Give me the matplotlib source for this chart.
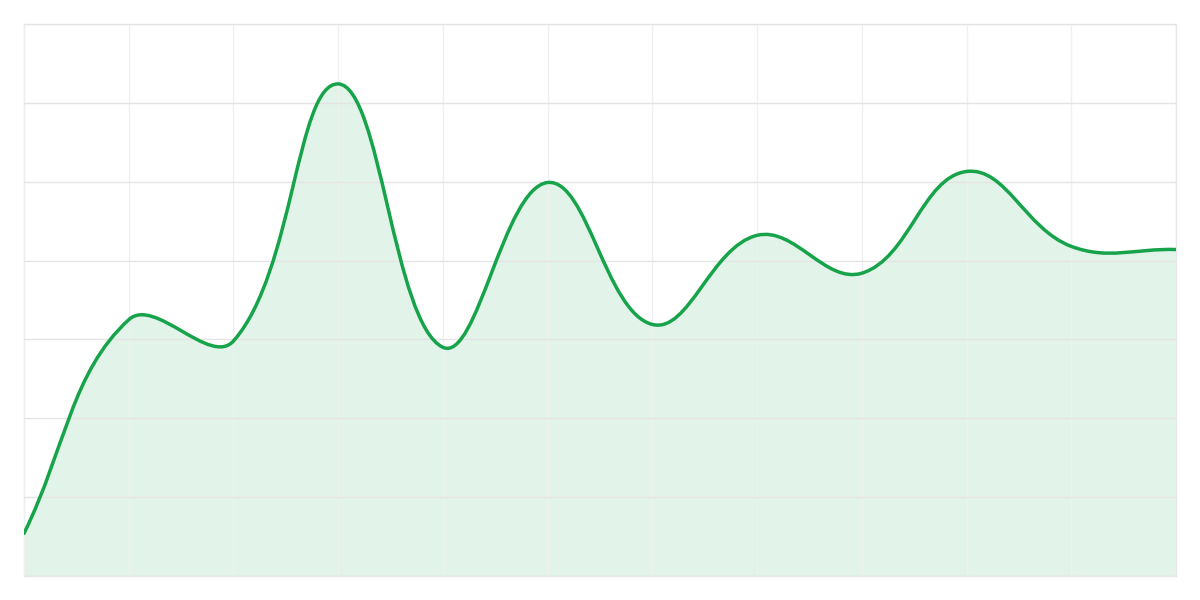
import numpy as np
import matplotlib
matplotlib.use('Agg')
import matplotlib.pyplot as plt
from matplotlib.path import Path
from matplotlib.patches import PathPatch

# values, one per vertical grid line
x_index = list(range(12))
values = [5.4, 32.5, 29.8, 62.4, 29.0, 49.9, 31.9, 43.2, 38.4, 51.3, 41.8, 41.4]

line_color = '#16a34a'
fill_color = '#16a34a'
tension = 0.4


def spline_path(ax, xs, ys):
    # bezier control points the same way Chart.js does it (in pixel space)
    pts = ax.transData.transform(np.column_stack([xs, ys]))
    n = len(pts)
    cp_prev = np.zeros_like(pts)
    cp_next = np.zeros_like(pts)
    for i in range(n):
        cur = pts[i]
        prev = pts[i - 1] if i > 0 else cur
        nxt = pts[i + 1] if i < n - 1 else cur
        d01 = np.hypot(*(cur - prev))
        d12 = np.hypot(*(nxt - cur))
        tot = d01 + d12
        s01 = d01 / tot if tot else 0
        s12 = d12 / tot if tot else 0
        cp_prev[i] = cur - tension * s01 * (nxt - prev)
        cp_next[i] = cur + tension * s12 * (nxt - prev)
    verts = [pts[0]]
    codes = [Path.MOVETO]
    for i in range(n - 1):
        verts += [cp_next[i], cp_prev[i + 1], pts[i + 1]]
        codes += [Path.CURVE4] * 3
    inv = ax.transData.inverted()
    return inv.transform(np.array(verts)), codes


fig = plt.figure(figsize=(12, 6), dpi=100)
ax = fig.add_axes([0.02, 0.04, 0.96, 0.92])
ax.set_xlim(0, 11)
ax.set_ylim(0, 70)

verts, codes = spline_path(ax, x_index, values)

# filled area under the curve
fill_verts = list(verts) + [(x_index[-1], 0), (x_index[0], 0), verts[0]]
fill_codes = list(codes) + [Path.LINETO, Path.LINETO, Path.CLOSEPOLY]
ax.add_patch(PathPatch(Path(fill_verts, fill_codes), facecolor=fill_color,
                       edgecolor='none', alpha=0.12, zorder=1))

ax.set_xticks(x_index)
ax.set_yticks(np.arange(0, 71, 10))
ax.set_xticklabels([])
ax.set_yticklabels([])
ax.tick_params(length=0)
ax.xaxis.grid(True, color='#f0f0f0', linewidth=1, zorder=2)
ax.yaxis.grid(True, color='#e4e4e4', linewidth=1, zorder=2)
ax.set_axisbelow(False)
for side in ax.spines:
    ax.spines[side].set_color('#e8e8e8')
    ax.spines[side].set_linewidth(1)

ax.add_patch(PathPatch(Path(verts, codes), facecolor='none', edgecolor=line_color,
                       linewidth=2.5, capstyle='round', joinstyle='round', zorder=3))

fig.savefig('out.png', dpi=100)
